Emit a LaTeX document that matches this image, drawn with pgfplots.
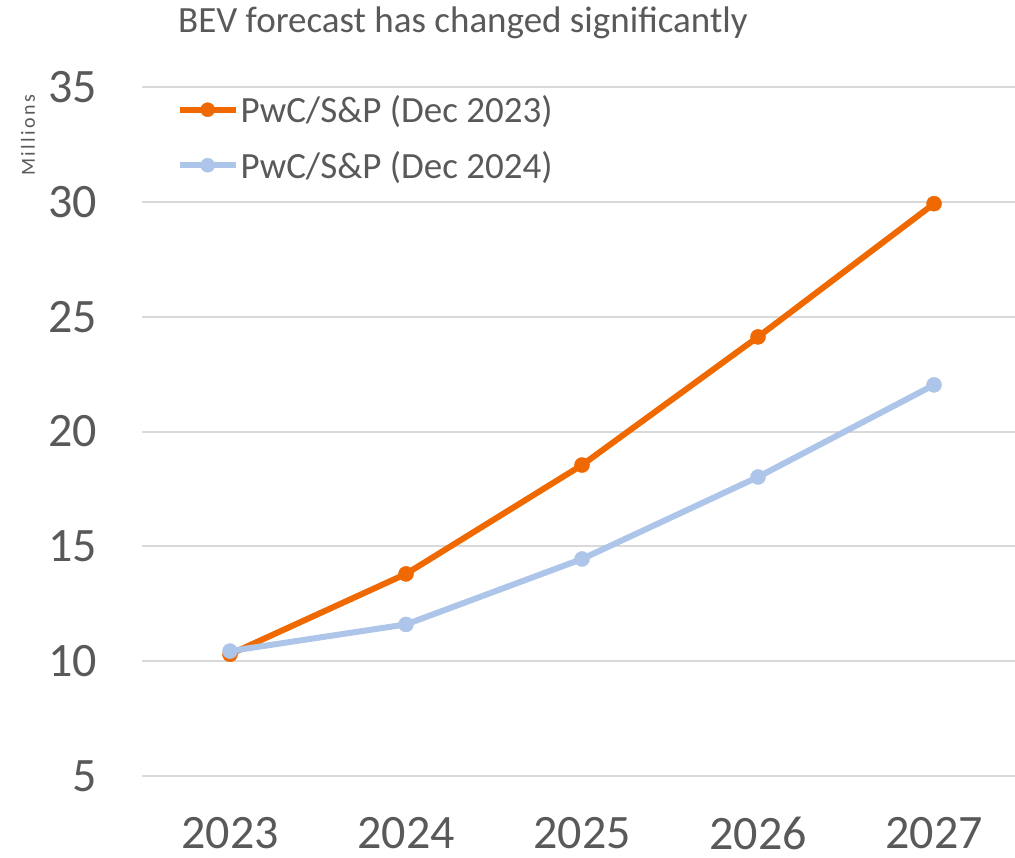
\documentclass[border=0pt]{standalone}
\usepackage{fontspec}
\setmainfont{Carlito}
\usepackage{pgfplots}
\pgfplotsset{compat=1.18}
\definecolor{bevorange}{RGB}{240,105,0}
\definecolor{bevblue}{RGB}{172,197,233}
\definecolor{txtgray}{RGB}{89,89,89}
\definecolor{gridgray}{RGB}{217,217,217}

\begin{document}
\begin{tikzpicture}
\begin{axis}[
  at={(142pt,-776pt)}, anchor=south west,
  scale only axis, width=873pt, height=689pt,
  xmin=2022.5, xmax=2027.46, ymin=5, ymax=35,
  xtick={2023,2024,2025,2026,2027}, ytick={5,10,...,35},
  axis line style={draw=none},
  major tick length=0pt,
  ymajorgrids, major grid style={gridgray, line width=2pt},
  clip=false,
  /pgf/number format/1000 sep={},
  /pgf/number format/assume math mode=true,
  ticklabel style={font=\fontsize{48}{56}\selectfont, text=txtgray, inner sep=0pt},
  xticklabel style={anchor=center, yshift=-57pt},
  yticklabel style={anchor=east, xshift=-45pt},
  legend style={draw=none, fill=none, at={(0.0395,0.991)}, anchor=north west,
    font=\fontsize{37}{42}\selectfont, text=txtgray, row sep=23pt, inner sep=0pt,
    nodes={inner sep=2pt}},
  legend cell align=left,
  legend image code/.code={\draw[mark repeat=2,mark phase=2,#1,mark size=7pt]
    plot coordinates {(0pt,0pt)(28pt,0pt)(56pt,0pt)};},
]
% values in millions
\addplot[bevorange, line width=6pt, mark=*, mark size=7.5pt,
  mark options={line width=0.5pt}] coordinates {
  (2023,10.3) (2024,13.8) (2025,18.54) (2026,24.12) (2027,29.92)
};
\addplot[bevblue, line width=6pt, mark=*, mark size=7.5pt,
  mark options={line width=0.5pt}] coordinates {
  (2023,10.44) (2024,11.6) (2025,14.45) (2026,18.02) (2027,22.03)
};
\legend{PwC/S\&P (Dec 2023), PwC/S\&P (Dec 2024)}
\end{axis}
\node[anchor=west, text=txtgray, font=\fontsize{37}{42}\selectfont, inner sep=0pt]
  at (178pt,-23pt) {BEV forecast has changed significantly};
\node[rotate=90, text=txtgray, font=\fontsize{20}{24}\selectfont\addfontfeature{LetterSpace=12}, inner sep=0pt]
  at (28pt,-135pt) {Millions};
\pgfresetboundingbox
\path[use as bounding box] (0,0) rectangle (1015pt,-857pt);
\end{tikzpicture}
\end{document}
